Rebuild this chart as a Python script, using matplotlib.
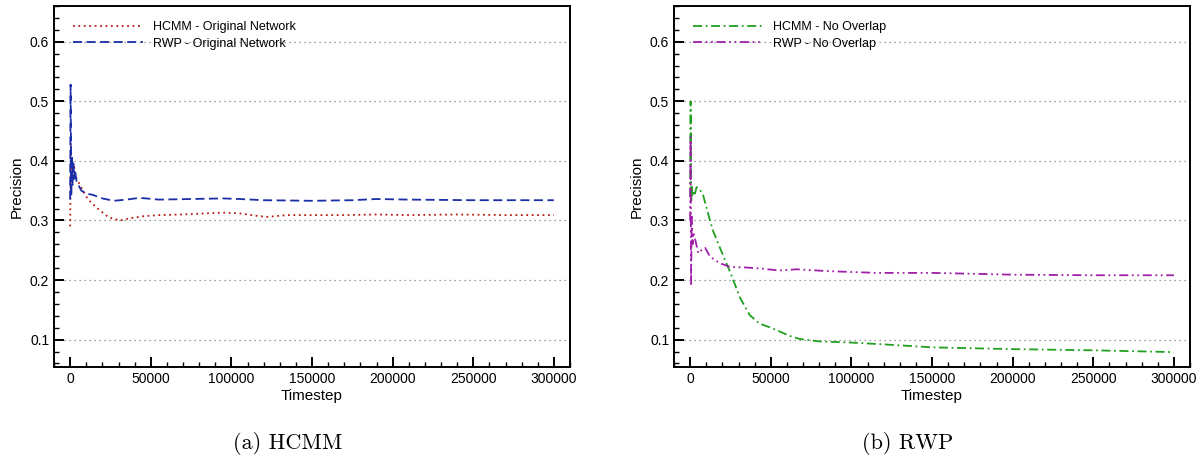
import numpy as np
import matplotlib
matplotlib.use("Agg")
import matplotlib.pyplot as plt
from matplotlib.ticker import MultipleLocator, FormatStrFormatter

plt.rcParams['font.family'] = ['Liberation Sans', 'DejaVu Sans']

# panel (a) HCMM
hcmm_orig_x = [0, 500, 1000, 1500, 2000, 2500, 3000, 4000, 5000, 7000, 10000, 13000, 18000, 24000,
               31000, 38000, 45000, 55000, 70000, 85000, 95000, 105000, 115000, 122000, 135000,
               150000, 170000, 190000, 210000, 240000, 270000, 300000]
hcmm_orig_y = [0.29, 0.43, 0.36, 0.40, 0.37, 0.39, 0.38, 0.37, 0.365, 0.355, 0.34, 0.33, 0.318, 0.305,
               0.300, 0.304, 0.307, 0.309, 0.310, 0.312, 0.313, 0.312, 0.308, 0.306, 0.309,
               0.309, 0.309, 0.310, 0.309, 0.310, 0.309, 0.309]
rwp_orig_x = [0, 300, 700, 1000, 1500, 2000, 2500, 3000, 4000, 5000, 7000, 10000, 14000, 20000,
              27000, 35000, 43000, 55000, 75000, 95000, 105000, 120000, 150000, 175000, 190000,
              210000, 250000, 300000]
rwp_orig_y = [0.335, 0.528, 0.34, 0.41, 0.36, 0.40, 0.37, 0.385, 0.365, 0.36, 0.35, 0.345, 0.343, 0.337,
              0.333, 0.335, 0.338, 0.335, 0.336, 0.337, 0.336, 0.334, 0.333, 0.334, 0.336,
              0.335, 0.334, 0.334]

# panel (b) RWP
hcmm_no_x = [0, 300, 700, 1000, 1500, 2000, 3000, 4000, 6000, 8000, 11000, 14000, 18500, 25000,
             31000, 37000, 43000, 50000, 56000, 62000, 68000, 80000, 100000, 120000, 150000,
             200000, 250000, 300000]
hcmm_no_y = [0.34, 0.50, 0.33, 0.36, 0.34, 0.35, 0.345, 0.356, 0.352, 0.343, 0.313, 0.284, 0.254, 0.212,
             0.170, 0.141, 0.127, 0.120, 0.113, 0.106, 0.101, 0.097, 0.095, 0.092, 0.087,
             0.084, 0.082, 0.079]
rwp_no_x = [0, 300, 600, 1000, 1500, 2000, 3000, 5000, 7000, 9300, 12400, 18600, 24800, 35000,
            45000, 55000, 66000, 85000, 115000, 150000, 200000, 250000, 300000]
rwp_no_y = [0.30, 0.44, 0.19, 0.31, 0.26, 0.28, 0.27, 0.245, 0.25, 0.254, 0.239, 0.228, 0.222, 0.221,
            0.219, 0.216, 0.218, 0.215, 0.212, 0.212, 0.209, 0.208, 0.208]

xticks = [0, 50000, 100000, 150000, 200000, 250000, 300000]
captions = ["(a) HCMM", "(b) RWP"]

fig = plt.figure(figsize=(12.03, 4.61), dpi=100)
ax1 = fig.add_axes([54 / 1203, 1 - 367 / 461, 516 / 1203, 361 / 461])
ax2 = fig.add_axes([674 / 1203, 1 - 367 / 461, 516 / 1203, 361 / 461])

ax1.plot(hcmm_orig_x, hcmm_orig_y, color='#b81c14', lw=1.3, ls=(0, (1, 2)),
         label='HCMM - Original Network')
ax1.plot(rwp_orig_x, rwp_orig_y, color='#1a2ea8', lw=1.3, ls=(0, (5, 2.5)),
         label='RWP - Original Network')

ax2.plot(hcmm_no_x, hcmm_no_y, color='#20a020', lw=1.3, ls=(0, (5, 2, 1, 2)),
         label='HCMM - No Overlap')
ax2.plot(rwp_no_x, rwp_no_y, color='#a020a8', lw=1.3, ls=(0, (5, 2, 1, 2, 1, 2)),
         label='RWP - No Overlap')

for ax in [ax1, ax2]:
    ax.set_xlim(-10000, 310000)
    ax.set_ylim(0.054, 0.66)
    ax.set_xticks(xticks)
    ax.xaxis.set_minor_locator(MultipleLocator(10000))
    ax.yaxis.set_major_locator(MultipleLocator(0.1))
    ax.yaxis.set_minor_locator(MultipleLocator(0.02))
    ax.yaxis.set_major_formatter(FormatStrFormatter('%.1f'))
    ax.tick_params(which='both', direction='in', top=False, right=False, labelsize=10)
    ax.tick_params(which='major', length=7, width=1.4)
    ax.tick_params(which='minor', length=3.5, width=1.0)
    for s in ax.spines.values():
        s.set_linewidth(1.4)
    ax.grid(axis='y', which='major', ls=(0, (1, 3)), color='#808080', lw=0.9)
    ax.set_xlabel('Timestep', fontsize=11, labelpad=2)
    ax.set_ylabel('Precision', fontsize=11, labelpad=4)
    leg = ax.legend(loc='upper left', frameon=False, fontsize=9, handlelength=5.6,
                    handletextpad=0.8, labelspacing=0.35, borderaxespad=0.3,
                    bbox_to_anchor=(0.02, 0.982))

# subfigure captions, centred under each image (incl. y label area)
fig.text(288 / 1203, 1 - 443 / 461, captions[0], ha='center', va='center',
         fontsize=16, family='cmr10')
fig.text(908 / 1203, 1 - 443 / 461, captions[1], ha='center', va='center',
         fontsize=16, family='cmr10')

fig.savefig('out.png', dpi=100)
